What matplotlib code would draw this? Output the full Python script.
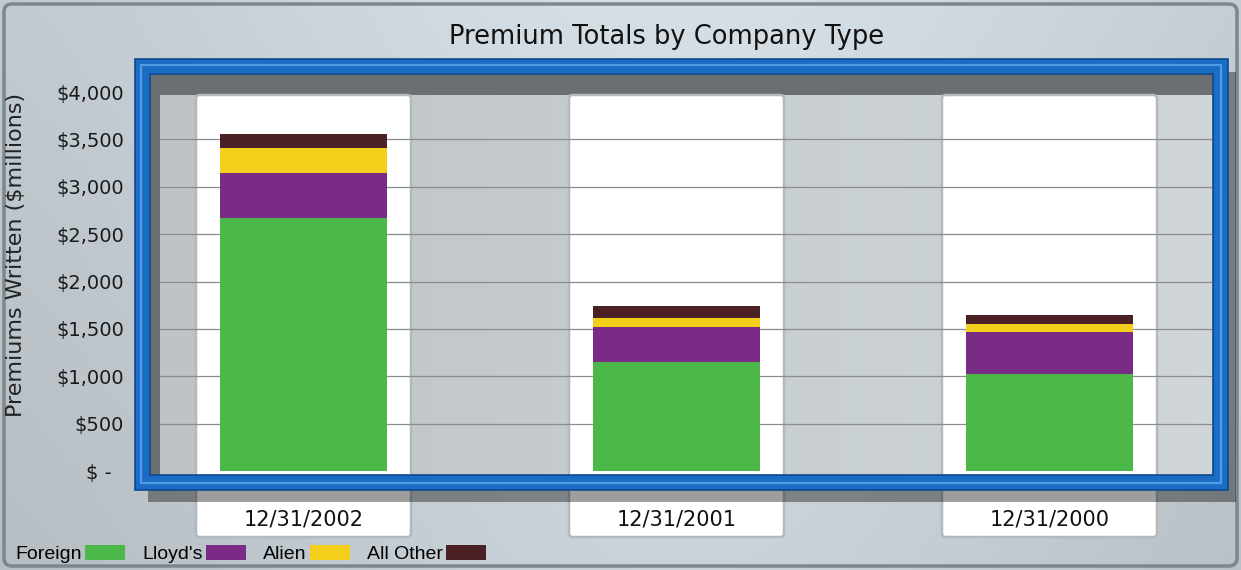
import numpy as np
import matplotlib
matplotlib.use('Agg')
import matplotlib.pyplot as plt
from matplotlib.patches import Rectangle, FancyBboxPatch, Patch
import matplotlib.transforms as mtransforms

# --- data ---
periods = ["12/31/2002", "12/31/2001", "12/31/2000"]
foreign = [2665, 1152, 1025]
lloyds = [475, 370, 444]
alien = [264, 95, 85]
all_other = [150, 127, 95]
series_names = ["Foreign", "Lloyd's", "Alien", "All Other"]
series_colors = ["#4cb84a", "#7a2b85", "#f2cf1a", "#4c2125"]
ytick_values = [0, 500, 1000, 1500, 2000, 2500, 3000, 3500, 4000]
ytick_labels = ["$ -  ", "$500", "$1,000", "$1,500", "$2,000", "$2,500",
                "$3,000", "$3,500", "$4,000"]

W, H = 1241, 570
fig = plt.figure(figsize=(W / 100, H / 100), dpi=100)

def fx(px):
    return px / W

def fy(py):
    return 1 - py / H

# --- background layer (pixel coords, y down) ---
bg = fig.add_axes([0, 0, 1, 1], zorder=0)
bg.set_xlim(0, W)
bg.set_ylim(H, 0)
bg.axis('off')

gx = np.linspace(0, 1, 300)
gy = np.linspace(0, 1, 150)
GX, GY = np.meshgrid(gx, gy)
shade = 0.80 + 0.10 * np.exp(-((GX - 0.55) ** 2) / 0.18) - 0.05 * GY
grad = np.dstack([shade * 0.93, shade * 0.97, shade * 1.0])
bg.imshow(np.clip(grad, 0, 1), extent=[0, W, H, 0], aspect='auto', zorder=0)
bg.add_patch(FancyBboxPatch((4, 4), W - 8, H - 8, boxstyle="round,pad=0,rounding_size=8",
                            fill=False, ec="#7c868d", lw=2.5, zorder=1))

# plot area fill + dark inner shadow strips (top and left)
bg.add_patch(Rectangle((148, 72), 1066, 404, fc="#6c6f72", ec="none", zorder=2))
gp = np.linspace(0.77, 0.84, 200)
strip = np.dstack([gp * 0.97, gp, gp * 1.01]).repeat(2, axis=0)
bg.imshow(np.clip(strip, 0, 1), extent=[160, 1214, 476, 95], aspect='auto', zorder=3)

# --- main axes ---
ax_l, ax_r, ax_t, ax_b = 160, 1212, 92, 471
ax = fig.add_axes([fx(ax_l), fy(ax_b), fx(ax_r - ax_l), (ax_b - ax_t) / H], zorder=1)
ax.patch.set_alpha(0)
x = np.arange(len(periods))
px_per_cat = 373
left_data = -(303.5 - ax_l) / px_per_cat
right_data = left_data + (ax_r - ax_l) / px_per_cat
ax.set_xlim(left_data, right_data)
ax.set_ylim(0, 4000)

# white column "cards" behind each bar, extending down to the labels
trans = mtransforms.blended_transform_factory(ax.transData, ax.transAxes)
col_w = 215 / px_per_cat
col_bot = (ax_b - 537) / (ax_b - ax_t)
col_top = (ax_b - 95) / (ax_b - ax_t)
for xi in x:
    ax.add_patch(FancyBboxPatch((xi - col_w / 2, col_bot), col_w, col_top - col_bot,
                                boxstyle="round,pad=0,rounding_size=0.01",
                                transform=trans, clip_on=False,
                                fc="white", ec="#b4b9bd", lw=1.8, zorder=0))

for yv in ytick_values[1:-1]:
    ax.axhline(yv, color="#8a8d90", lw=0.9, zorder=1)

bar_w = 167 / px_per_cat
bottom = np.zeros(len(periods))
for vals, name, col in zip([foreign, lloyds, alien, all_other], series_names, series_colors):
    ax.bar(x, vals, bar_w, bottom=bottom, color=col, edgecolor='none', zorder=3, label=name)
    bottom += np.array(vals)

for s in ax.spines.values():
    s.set_visible(False)
ax.set_yticks(ytick_values)
ax.set_yticklabels(ytick_labels, fontsize=14, color="#1a1a1a")
ax.tick_params(axis='y', length=0, pad=26)
ax.set_xticks(x)
ax.set_xticklabels(periods, fontsize=15, color="#111111")
ax.tick_params(axis='x', length=0, pad=28)
ax.set_ylabel("Premiums Written ($millions)", fontsize=16, color="#222222")
ax.yaxis.set_label_coords(-(ax_l - 26) / (ax_r - ax_l), 0.57)

# --- overlay: blue frame and its drop shadow ---
ov = fig.add_axes([0, 0, 1, 1], zorder=2)
ov.set_xlim(0, W)
ov.set_ylim(H, 0)
ov.axis('off')
ov.patch.set_alpha(0)
ov.add_patch(Rectangle((148, 489), 1088, 13, fc="black", alpha=0.38, ec="none"))
ov.add_patch(Rectangle((1227, 72), 9, 417, fc="black", alpha=0.38, ec="none"))
ov.add_patch(Rectangle((142, 66), 1078, 416, fill=False, ec="#0e4a90", lw=12))
ov.add_patch(Rectangle((142, 66), 1078, 416, fill=False, ec="#1a6cc4", lw=9.5))
ov.add_patch(Rectangle((141, 65), 1080, 418, fill=False, ec="#4f9de0", lw=1.6))

fig.text(0.5375, fy(37), "Premium Totals by Company Type", ha='center', va='center',
         fontsize=18.5, color="#111111")

handles = [Patch(fc=c, ec='none') for c in series_colors]
fig.legend(handles, series_names, loc='lower left', bbox_to_anchor=(fx(8), fy(571)),
           ncol=4, frameon=False, markerfirst=False, handlelength=2.05, handleheight=0.75,
           handletextpad=0.15, columnspacing=0.9, borderaxespad=0,
           prop={'family': 'Liberation Sans', 'size': 14})

fig.savefig("out.png", dpi=100)
